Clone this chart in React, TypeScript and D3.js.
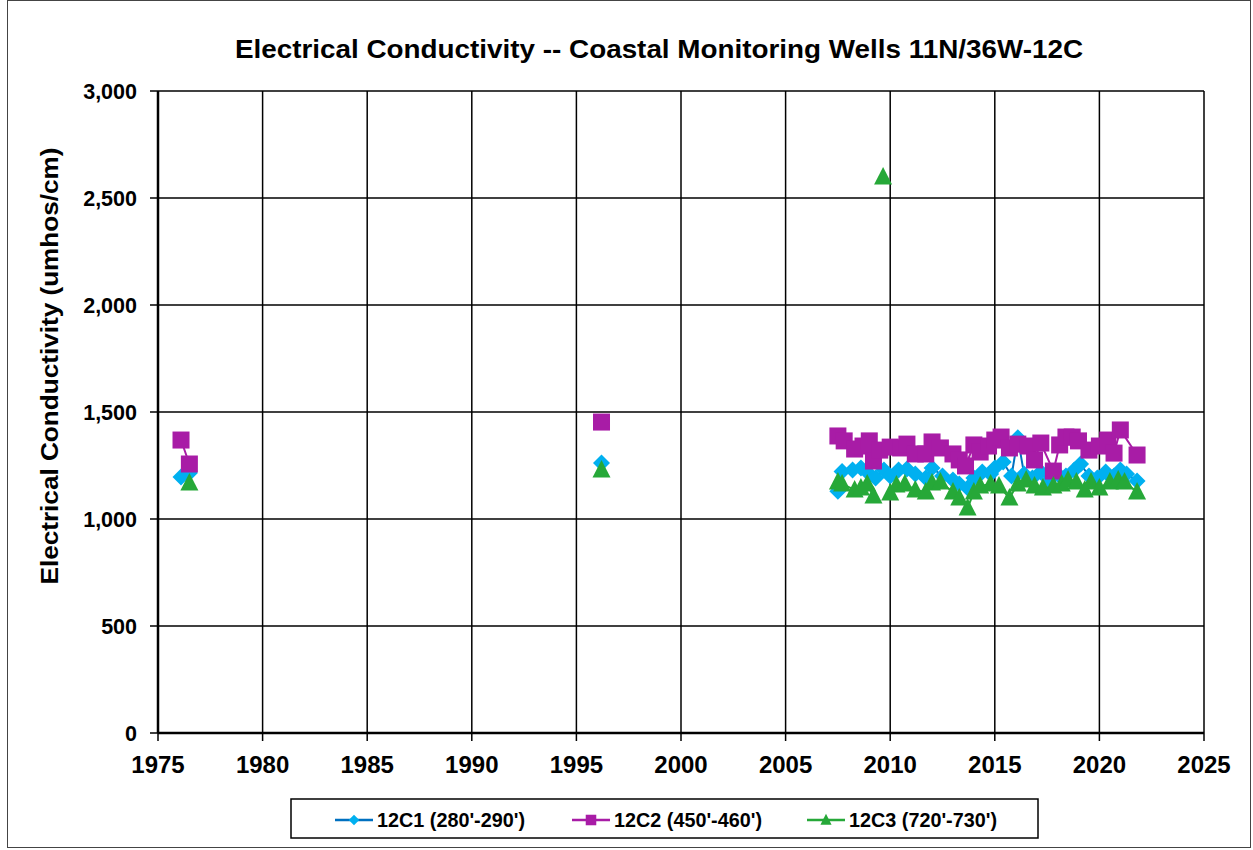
import React, { useRef, useEffect } from 'react';
import * as d3 from 'd3';

// Well 12C1 (280'-290')
const c1Years = [1976.1, 1976.5, null, 1996.2, null, 2007.5, 2007.7, 2008.2, 2008.6, 2009.0, 2009.3, 2009.7, 2010.0, 2010.4, 2010.8, 2011.2, 2011.7, 2012.0, 2012.5, 2013.0, 2013.3, 2013.7, 2014.0, 2014.4, 2014.8, 2015.0, 2015.4, 2015.8, 2016.1, 2016.4, 2016.8, 2017.2, 2017.6, 2018.0, 2018.4, 2018.8, 2019.1, 2019.5, 2019.9, 2020.3, 2020.7, 2021.0, 2021.3, 2021.8];
const c1Values = [1196, 1215, null, 1262, null, 1130, 1222, 1229, 1238, 1210, 1192, 1229, 1201, 1229, 1234, 1210, 1192, 1238, 1201, 1182, 1164, 1145, 1192, 1220, 1210, 1238, 1266, 1201, 1380, 1210, 1192, 1220, 1182, 1210, 1201, 1229, 1257, 1201, 1192, 1220, 1201, 1229, 1210, 1178];

// Well 12C2 (450'-460')
const c2Years = [1976.1, 1976.5, null, 1996.2, null, 2007.5, 2007.8, 2008.3, 2008.7, 2009.0, 2009.2, 2009.5, 2010.0, 2010.5, 2010.8, 2011.2, 2011.7, 2012.0, 2012.4, 2013.0, 2013.3, 2013.6, 2014.0, 2014.3, 2014.7, 2015.0, 2015.3, 2015.7, 2016.1, 2016.6, 2016.9, 2017.2, 2017.8, 2018.1, 2018.4, 2018.7, 2019.0, 2019.5, 2020.0, 2020.4, 2020.7, 2021.0, 2021.8];
const c2Values = [1369, 1257, null, 1453, null, 1388, 1365, 1327, 1341, 1365, 1271, 1322, 1336, 1332, 1350, 1304, 1304, 1360, 1332, 1304, 1276, 1248, 1346, 1313, 1341, 1369, 1383, 1332, 1350, 1341, 1276, 1355, 1224, 1346, 1383, 1383, 1365, 1322, 1341, 1369, 1308, 1416, 1299];

// Well 12C3 (720'-730')
const c3Years = [1976.5, null, 1996.2, null, 2007.5, 2007.7, 2008.3, 2008.6, 2008.9, 2009.2, null, 2009.66, null, 2010.0, 2010.3, 2010.7, 2011.2, 2011.7, 2012.0, 2012.4, 2013.0, 2013.3, 2013.7, 2014.0, 2014.3, 2014.8, 2015.2, 2015.7, 2016.1, 2016.5, 2016.9, 2017.3, 2017.8, 2018.2, 2018.5, 2018.9, 2019.3, 2019.6, 2020.0, 2020.5, 2020.9, 2021.2, 2021.8];
const c3Values = [1168, null, 1229, null, 1173, 1164, 1136, 1145, 1164, 1107, null, 2598, null, 1121, 1159, 1164, 1136, 1126, 1168, 1173, 1126, 1098, 1051, 1126, 1154, 1164, 1154, 1098, 1164, 1182, 1154, 1145, 1154, 1164, 1182, 1173, 1136, 1173, 1145, 1173, 1182, 1173, 1126];

const seriesNames = ["12C1 (280'-290')", "12C2 (450'-460')", "12C3 (720'-730')"];
const xTicks = [1975, 1980, 1985, 1990, 1995, 2000, 2005, 2010, 2015, 2020, 2025];
const yTicks = [0, 500, 1000, 1500, 2000, 2500, 3000];

const FONT = "'Liberation Sans', Arial, sans-serif";

const EcChart = () => {
  const chartRef = useRef(null);

  useEffect(() => {
    const root = d3.select(chartRef.current);
    root.selectAll('*').remove();

    const width = 1253;
    const height = 850;
    const left = 158, right = 1204, top = 91, bottom = 733;

    const svg = root.append('svg')
      .attr('width', width)
      .attr('height', height)
      .style('display', 'block')
      .style('font-family', FONT);

    svg.append('rect').attr('width', width).attr('height', height).attr('fill', '#fff');
    svg.append('rect')
      .attr('x', 7.5).attr('y', 0.5).attr('width', 1243).attr('height', 847)
      .attr('fill', 'none').attr('stroke', '#444').attr('stroke-width', 1);

    const x = d3.scaleLinear().domain([1975, 2025]).range([left, right]);
    const y = d3.scaleLinear().domain([0, 3000]).range([bottom, top]);

    // grid
    const grid = svg.append('g').attr('stroke', '#000').attr('stroke-width', 1.5);
    xTicks.forEach(t => {
      grid.append('line').attr('x1', x(t)).attr('x2', x(t)).attr('y1', top).attr('y2', bottom + 8);
    });
    yTicks.forEach(t => {
      grid.append('line').attr('x1', left - 8).attr('x2', right).attr('y1', y(t)).attr('y2', y(t));
    });
    // axes
    svg.append('line').attr('x1', left).attr('x2', left).attr('y1', top).attr('y2', bottom)
      .attr('stroke', '#000').attr('stroke-width', 2.5);
    svg.append('line').attr('x1', left).attr('x2', right).attr('y1', bottom).attr('y2', bottom)
      .attr('stroke', '#000').attr('stroke-width', 2.5);

    const fmt = d3.format(',');
    svg.append('g').selectAll('text').data(yTicks).enter().append('text')
      .attr('x', 137).attr('y', d => y(d)).attr('dy', '0.36em')
      .attr('text-anchor', 'end').attr('font-size', 21.5).attr('font-weight', 'bold')
      .text(d => fmt(d));
    svg.append('g').selectAll('text').data(xTicks).enter().append('text')
      .attr('x', d => x(d)).attr('y', 773)
      .attr('text-anchor', 'middle').attr('font-size', 24).attr('font-weight', 'bold')
      .text(d => d);

    svg.append('text')
      .attr('x', 659).attr('y', 58).attr('text-anchor', 'middle')
      .attr('font-size', 25).attr('font-weight', 'bold')
      .attr('textLength', 848).attr('lengthAdjust', 'spacingAndGlyphs')
      .text('Electrical Conductivity  -- Coastal Monitoring Wells 11N/36W-12C');

    svg.append('text')
      .attr('transform', `translate(58,366) rotate(-90)`)
      .attr('text-anchor', 'middle').attr('font-size', 24).attr('font-weight', 'bold')
      .attr('textLength', 437).attr('lengthAdjust', 'spacingAndGlyphs')
      .text('Electrical Conductivity (umhos/cm)');

    const series = [
      { years: c1Years, values: c1Values, line: '#0070C0', fill: '#00B0F0', shape: 'diamond' },
      { years: c2Years, values: c2Values, line: '#A81CA6', fill: '#A81CA6', shape: 'square' },
      { years: c3Years, values: c3Values, line: '#26A838', fill: '#26A838', shape: 'triangle' },
    ];

    const marker = (g, shape, fill) => {
      if (shape === 'diamond') {
        g.append('path').attr('d', 'M0,-8.5L8.5,0L0,8.5L-8.5,0Z').attr('fill', fill);
      } else if (shape === 'square') {
        g.append('rect').attr('x', -8.5).attr('y', -8.5).attr('width', 17).attr('height', 17).attr('fill', fill);
      } else {
        g.append('path').attr('d', 'M0,-10L9,7.5L-9,7.5Z').attr('fill', fill);
      }
    };

    series.forEach(s => {
      const pts = s.years.map((yr, i) => ({ yr, v: s.values[i] }));
      const line = d3.line()
        .defined(d => d.yr !== null && d.v !== null)
        .x(d => x(d.yr))
        .y(d => y(d.v));
      svg.append('path').datum(pts).attr('d', line)
        .attr('fill', 'none').attr('stroke', s.line).attr('stroke-width', 2);
    });
    series.forEach(s => {
      s.years.forEach((yr, i) => {
        const v = s.values[i];
        if (yr === null || v === null) return;
        const g = svg.append('g').attr('transform', `translate(${x(yr)},${y(v)})`);
        marker(g, s.shape, s.fill);
      });
    });

    // legend
    svg.append('rect').attr('x', 291).attr('y', 799).attr('width', 747).attr('height', 39)
      .attr('fill', '#fff').attr('stroke', '#000').attr('stroke-width', 1.5);
    const legendX = [335, 572, 807];
    series.forEach((s, i) => {
      const g = svg.append('g').attr('transform', `translate(${legendX[i]},820)`);
      g.append('line').attr('x1', 0).attr('x2', 38).attr('stroke', s.line).attr('stroke-width', 2.5);
      const m = g.append('g').attr('transform', 'translate(19,0) scale(0.62)');
      marker(m, s.shape, s.fill);
      g.append('text').attr('x', 42).attr('y', 0).attr('dy', '0.36em')
        .attr('font-size', 20).attr('font-weight', 'bold')
        .attr('textLength', 148).attr('lengthAdjust', 'spacingAndGlyphs')
        .text(seriesNames[i]);
    });

    return () => {
      root.selectAll('*').remove();
    };
  }, []);

  return <div ref={chartRef} style={{ position: 'absolute', left: 0, top: 0, width: 1253, height: 850 }} />;
};

export default function App() {
  return <EcChart />;
}
